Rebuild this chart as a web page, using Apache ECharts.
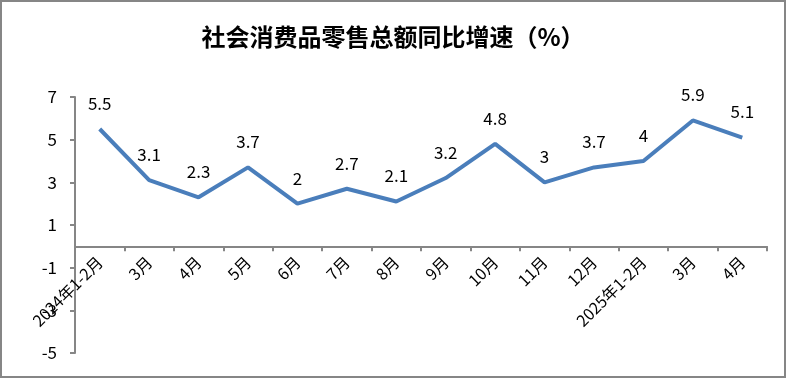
<!DOCTYPE html>
<html>
<head>
<meta charset="utf-8">
<script src="https://cdn.jsdelivr.net/npm/echarts@6/dist/echarts.min.js"></script>
<style>
  html, body { margin: 0; padding: 0; background: #fff; }
  #chart { width: 786px; height: 378px; }
</style>
</head>
<body>
<div id="chart"></div>
<script>
// 月份
var months = ['2024年1-2月', '3月', '4月', '5月', '6月', '7月', '8月', '9月', '10月', '11月', '12月', '2025年1-2月', '3月', '4月'];
// 同比增速(%)
var growth = [5.5, 3.1, 2.3, 3.7, 2, 2.7, 2.1, 3.2, 4.8, 3, 3.7, 4, 5.9, 5.1];
var yTicks = [-5, -3, -1, 1, 3, 5, 7];

var chart = echarts.init(document.getElementById('chart'), null, { renderer: 'canvas' });
var font = '"Noto Sans CJK SC", "Noto Sans", sans-serif';
var gridTop = 97, gridBottom = 25, chartH = 378;
var yMin = yTicks[0], yMax = yTicks[yTicks.length - 1];
// 让横轴落在 0 值处
var zeroOffset = -(chartH - gridTop - gridBottom) * (0 - yMin) / (yMax - yMin);
var option = {
  animation: false,
  backgroundColor: '#fff',
  title: {
    text: '社会消费品零售总额同比增速（%）',
    left: 'center',
    top: 20,
    textStyle: { fontFamily: font, fontSize: 24, fontWeight: 'bold', color: '#000' }
  },
  graphic: [{
    type: 'rect',
    shape: { x: 1, y: 1, width: 784, height: 376 },
    style: { fill: 'none', stroke: '#868686', lineWidth: 2 },
    silent: true
  }],
  grid: { left: 75, right: 19, top: gridTop, bottom: gridBottom, containLabel: false, outerBoundsMode: 'none' },
  xAxis: {
    type: 'category',
    data: months,
    boundaryGap: true,
    offset: zeroOffset,
    axisLine: { onZero: false, lineStyle: { color: '#868686', width: 2 } },
    axisTick: { show: true, length: 5, lineStyle: { color: '#868686', width: 2 } },
    axisLabel: {
      rotate: 45, interval: 0, margin: 13, hideOverlap: false,
      fontFamily: font, fontSize: 16, color: '#000'
    }
  },
  yAxis: {
    type: 'value',
    min: yMin,
    max: yMax,
    interval: 2,
    splitLine: { show: false },
    axisLine: { show: true, lineStyle: { color: '#868686', width: 2 } },
    axisTick: { show: true, length: 5, lineStyle: { color: '#868686', width: 2 } },
    axisLabel: { fontFamily: font, fontSize: 17, color: '#000', margin: 18 }
  },
  series: [{
    name: '同比增速',
    type: 'line',
    data: growth,
    symbol: 'circle',
    symbolSize: 2,
    showSymbol: true,
    itemStyle: { color: 'transparent', borderWidth: 0 },
    lineStyle: { color: '#4a7ebb', width: 4 },
    label: {
      show: true, position: 'top', distance: 16,
      fontFamily: font, fontSize: 17, color: '#000'
    }
  }]
};
chart.setOption(option);
</script>
</body>
</html>
